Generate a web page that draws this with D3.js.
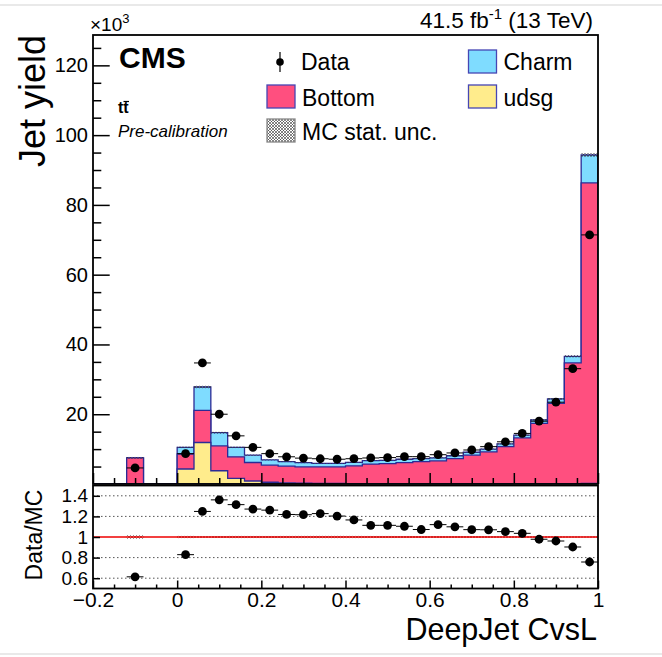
<!DOCTYPE html>
<html>
<head>
<meta charset="utf-8">
<script src="https://cdn.jsdelivr.net/npm/d3@7"></script>
<style>
  body { margin: 0; background: #fff; }
  svg { display: block; }
  text { font-family: "Liberation Sans", Arial, Helvetica, sans-serif; }
</style>
</head>
<body>
<svg id="chart" width="662" height="657"></svg>
<script>
// ---------------- data (in units of 10^3 jets) ----------------
const binCenters = [-0.18,-0.14,-0.10,-0.06,-0.02,0.02,0.06,0.10,0.14,0.18,0.22,0.26,0.30,0.34,0.38,
                    0.42,0.46,0.50,0.54,0.58,0.62,0.66,0.70,0.74,0.78,0.82,0.86,0.90,0.94,0.98];
const binHalfWidth = 0.02;
const udsg   = [0,0,0,0,0,4.3,11.9,3.8,1.6,0.86,0.5,0.35,0.25,0.2,0.15,
                0.12,0.1,0.1,0.1,0.1,0.1,0.1,0.1,0.1,0.1,0.1,0.1,0.1,0.1,0.2];
const bottom = [0,0,7.5,0,0,4.3,9.2,7.1,6.2,5.3,4.9,4.75,4.65,4.7,4.75,
                5.1,5.6,5.75,6.05,6.3,6.5,7.15,8.15,9.1,10.6,13.1,17.3,23.0,34.6,86.1];
const charm  = [0,0,0,0,0,1.9,6.7,3.8,2.7,2.1,1.5,1.3,1.2,1.0,1.0,
                1.0,1.0,0.95,0.95,0.9,0.9,0.85,0.85,0.8,0.8,0.8,1.0,1.3,1.9,8.0];
const dataY  = [0,0,4.6,0,0,8.7,34.7,20.0,13.8,10.5,8.7,7.8,7.42,7.24,7.1,
                7.25,7.46,7.57,7.84,7.83,8.4,8.9,9.75,10.7,12.1,14.5,18.0,23.45,33.05,71.4];
const mcStatUnc = [0,0,0.25,0,0,0.2,0.35,0.25,0.2,0.15,0.12,0.12,0.12,0.12,0.12,
                   0.12,0.12,0.12,0.12,0.12,0.12,0.12,0.13,0.14,0.15,0.17,0.2,0.25,0.3,0.5];

const yTicksMajor = [20,40,60,80,100,120];
const yTicksMinor = [5,10,15,25,30,35,45,50,55,65,70,75,85,90,95,105,110,115,125];
const xTicksMajor = [-0.2,0,0.2,0.4,0.6,0.8,1.0];
const xTicksMinor = [-0.15,-0.1,-0.05,0.05,0.1,0.15,0.25,0.3,0.35,0.45,0.5,0.55,0.65,0.7,0.75,0.85,0.9,0.95];
const xTickLabels = ["\u22120.2","0","0.2","0.4","0.6","0.8","1"];
const rTicks = [0.6,0.8,1.0,1.2,1.4];
const rTickLabels = ["0.6","0.8","1","1.2","1.4"];

const colBottom = "#ff4f7f", colCharm = "#7fdcff", colUdsg = "#ffec8c", colLine = "#2b2b96";
const FONT = '"Liberation Sans", Arial, Helvetica, sans-serif';

// ---------------- scales ----------------
const svg = d3.select("#chart");
svg.append("rect").attr("width",662).attr("height",657).attr("fill","#fff");
// page frame lines of the screenshot
svg.append("line").attr("x1",0).attr("x2",662).attr("y1",5).attr("y2",5).attr("stroke","#e2e2e2").attr("stroke-width",1.5);
svg.append("line").attr("x1",0).attr("x2",662).attr("y1",654).attr("y2",654).attr("stroke","#e2e2e2").attr("stroke-width",1.5);

const x = d3.scaleLinear().domain([-0.2, 1.0]).range([93, 598]);
const y = d3.scaleLinear().domain([0, 128.7]).range([484, 35]);
const yr = d3.scaleLinear().domain([0.5, 1.5]).range([588.5, 485.5]);

// patterns
const defs = svg.append("defs");
const pat = defs.append("pattern").attr("id","hatch").attr("patternUnits","userSpaceOnUse")
  .attr("width",3).attr("height",3);
pat.append("path").attr("d","M0,0 L3,3 M3,0 L0,3").attr("stroke","#333").attr("stroke-width",0.6);
defs.append("clipPath").attr("id","clipTop").append("rect")
  .attr("x",93).attr("y",35).attr("width",505).attr("height",449);
defs.append("clipPath").attr("id","clipRatio").append("rect")
  .attr("x",93).attr("y",485.5).attr("width",505).attr("height",103);

// ---------------- stacked histograms ----------------
const n = binCenters.length;
const lev1 = udsg.slice();
const lev2 = udsg.map((v,i)=>v+bottom[i]);
const lev3 = lev2.map((v,i)=>v+charm[i]);

function stepPath(vals){
  let p = `M${x(-0.2)},${y(0)}`;
  for(let i=0;i<n;i++){
    const lo = x(binCenters[i]-binHalfWidth), hi = x(binCenters[i]+binHalfWidth);
    p += `L${lo},${y(vals[i])}L${hi},${y(vals[i])}`;
  }
  p += `L${x(1.0)},${y(0)}Z`;
  return p;
}
const gTop = svg.append("g").attr("clip-path","url(#clipTop)");
[[lev3,colCharm],[lev2,colBottom],[lev1,colUdsg]].forEach(([vals,col])=>{
  gTop.append("path").attr("d",stepPath(vals)).attr("fill",col)
    .attr("stroke",colLine).attr("stroke-width",1.3).attr("stroke-linejoin","miter");
});

// MC stat unc hatch on top of stack
gTop.selectAll("rect.unc").data(d3.range(n).filter(i=>lev3[i]>0)).enter().append("rect")
  .attr("x",i=>x(binCenters[i]-binHalfWidth)).attr("width",i=>x(binCenters[i]+binHalfWidth)-x(binCenters[i]-binHalfWidth))
  .attr("y",i=>y(lev3[i]+mcStatUnc[i])).attr("height",i=>y(lev3[i]-mcStatUnc[i])-y(lev3[i]+mcStatUnc[i]))
  .attr("fill","url(#hatch)");

// data points
const dIdx = d3.range(n).filter(i=>dataY[i]>0);
gTop.selectAll("line.dx").data(dIdx).enter().append("line")
  .attr("x1",i=>x(binCenters[i]-binHalfWidth)).attr("x2",i=>x(binCenters[i]+binHalfWidth))
  .attr("y1",i=>y(dataY[i])).attr("y2",i=>y(dataY[i])).attr("stroke","#000").attr("stroke-width",1);
gTop.selectAll("circle.d").data(dIdx).enter().append("circle")
  .attr("cx",i=>x(binCenters[i])).attr("cy",i=>y(dataY[i])).attr("r",4.4).attr("fill","#000");

// ---------------- top axes ----------------
const fmtInt = d3.format("d");
const gy = svg.append("g").attr("transform",`translate(${x(-0.2)},0)`)
  .call(d3.axisLeft(y).tickValues(yTicksMajor).tickSize(-16.7).tickPadding(5).tickFormat(fmtInt));
gy.select(".domain").remove();
gy.selectAll("text").attr("font-size",20).attr("font-family",FONT).attr("fill","#000");
gy.selectAll("line").attr("stroke","#000").attr("stroke-width",1.5);
const gym = svg.append("g").attr("transform",`translate(${x(-0.2)},0)`)
  .call(d3.axisLeft(y).tickValues(yTicksMinor).tickSize(-8.3).tickFormat(""));
gym.select(".domain").remove();
gym.selectAll("line").attr("stroke","#000").attr("stroke-width",1.5);

const gxt = svg.append("g").attr("transform",`translate(0,${y(0)})`)
  .call(d3.axisBottom(x).tickValues(xTicksMajor).tickSize(-11).tickFormat(""));
gxt.select(".domain").remove();
gxt.selectAll("line").attr("stroke","#000").attr("stroke-width",1.5);
const gxtm = svg.append("g").attr("transform",`translate(0,${y(0)})`)
  .call(d3.axisBottom(x).tickValues(xTicksMinor).tickSize(-6).tickFormat(""));
gxtm.select(".domain").remove();
gxtm.selectAll("line").attr("stroke","#000").attr("stroke-width",1.5);

svg.append("rect").attr("x",93).attr("y",35).attr("width",505).attr("height",449)
  .attr("fill","none").attr("stroke","#000").attr("stroke-width",1.8);

// ---------------- ratio panel ----------------
const gR = svg.append("g").attr("clip-path","url(#clipRatio)");
gR.selectAll("line.grid").data(rTicks.filter(v=>v!==1.0)).enter().append("line")
  .attr("x1",93).attr("x2",598).attr("y1",d=>yr(d)).attr("y2",d=>yr(d))
  .attr("stroke","#555").attr("stroke-width",1).attr("stroke-dasharray","1.5,2.5");
const rIdx = d3.range(n).filter(i=>lev3[i]>0);
const rUnc = i => mcStatUnc[i]/lev3[i]*0.35+0.004;
gR.selectAll("rect.runc").data(rIdx).enter().append("rect")
  .attr("x",i=>x(binCenters[i]-binHalfWidth)).attr("width",i=>x(binCenters[i]+binHalfWidth)-x(binCenters[i]-binHalfWidth))
  .attr("y",i=>yr(1+rUnc(i))).attr("height",i=>yr(1-rUnc(i))-yr(1+rUnc(i)))
  .attr("fill","url(#hatch)");
gR.append("line").attr("x1",93).attr("x2",598).attr("y1",yr(1)).attr("y2",yr(1))
  .attr("stroke","#ee0000").attr("stroke-width",1.4);
const ratio = i => dataY[i]/lev3[i];
const rpIdx = rIdx.filter(i=>dataY[i]>0);
gR.selectAll("line.rx").data(rpIdx).enter().append("line")
  .attr("x1",i=>x(binCenters[i]-binHalfWidth)).attr("x2",i=>x(binCenters[i]+binHalfWidth))
  .attr("y1",i=>yr(ratio(i))).attr("y2",i=>yr(ratio(i))).attr("stroke","#000").attr("stroke-width",1);
gR.selectAll("circle.r").data(rpIdx).enter().append("circle")
  .attr("cx",i=>x(binCenters[i])).attr("cy",i=>yr(ratio(i))).attr("r",4.4).attr("fill","#000");

const gry = svg.append("g").attr("transform",`translate(${x(-0.2)},0)`)
  .call(d3.axisLeft(yr).tickValues(rTicks).tickSize(-7).tickPadding(5).tickFormat((d,i)=>rTickLabels[i]));
gry.select(".domain").remove();
gry.selectAll("text").attr("font-size",19).attr("font-family",FONT).attr("fill","#000");
gry.selectAll("line").attr("stroke","#000").attr("stroke-width",1.5);

const grx = svg.append("g").attr("transform",`translate(0,${yr(0.5)})`)
  .call(d3.axisBottom(x).tickValues(xTicksMajor).tickSize(-8).tickPadding(4).tickFormat((d,i)=>xTickLabels[i]));
grx.select(".domain").remove();
grx.selectAll("text").attr("font-size",21).attr("font-family",FONT).attr("fill","#000");
grx.selectAll("line").attr("stroke","#000").attr("stroke-width",1.5);
const grxm = svg.append("g").attr("transform",`translate(0,${yr(0.5)})`)
  .call(d3.axisBottom(x).tickValues(xTicksMinor).tickSize(-4).tickFormat(""));
grxm.select(".domain").remove();
grxm.selectAll("line").attr("stroke","#000").attr("stroke-width",1.5);

svg.append("rect").attr("x",93).attr("y",485.5).attr("width",505).attr("height",103)
  .attr("fill","none").attr("stroke","#000").attr("stroke-width",1.8);

// ---------------- texts ----------------
svg.append("text").attr("x",119).attr("y",68).attr("font-size",30).attr("font-weight","bold").text("CMS");
svg.append("text").attr("x",118).attr("y",113).attr("font-size",16).attr("font-weight","bold").text("tt");
svg.append("line").attr("x1",123.5).attr("x2",129).attr("y1",101.5).attr("y2",101.5).attr("stroke","#000").attr("stroke-width",1.2);
svg.append("text").attr("x",118).attr("y",137).attr("font-size",17).attr("font-style","italic").text("Pre-calibration");

const lum = svg.append("text").attr("x",593).attr("y",28).attr("font-size",22.5).attr("text-anchor","end");
lum.append("tspan").text("41.5 fb");
lum.append("tspan").attr("font-size",15).attr("dy",-9).text("-1");
lum.append("tspan").attr("dy",9).text(" (13 TeV)");

const tx = svg.append("text").attr("x",90).attr("y",31).attr("font-size",19);
tx.append("tspan").text("\u00d710");
tx.append("tspan").attr("font-size",13).attr("dy",-8).text("3");

svg.append("text").attr("transform","translate(45,35) rotate(-90)").attr("text-anchor","end")
  .attr("font-size",36).text("Jet yield");
svg.append("text").attr("transform","translate(42,535) rotate(-90)").attr("text-anchor","middle")
  .attr("font-size",23).text("Data/MC");
svg.append("text").attr("x",597).attr("y",640).attr("text-anchor","end").attr("font-size",30.5).text("DeepJet CvsL");

// ---------------- legend ----------------
const legFs = 23;
svg.append("line").attr("x1",280).attr("x2",280).attr("y1",52).attr("y2",72).attr("stroke","#000").attr("stroke-width",1.2);
svg.append("circle").attr("cx",280).attr("cy",62).attr("r",3.8).attr("fill","#000");
svg.append("text").attr("x",301).attr("y",70).attr("font-size",legFs).text("Data");
const legBoxes = [
  {x:267, y:85, fill:colBottom, label:"Bottom", ty:106},
  {x:267, y:119, fill:"url(#hatch)", label:"MC stat. unc.", ty:140, stroke:"#888"},
  {x:468.5, y:50, fill:colCharm, label:"Charm", ty:70},
  {x:468.5, y:85, fill:colUdsg, label:"udsg", ty:106}
];
legBoxes.forEach(b=>{
  svg.append("rect").attr("x",b.x).attr("y",b.y).attr("width",28).attr("height",23)
    .attr("fill",b.fill).attr("stroke",b.stroke||"#4646b4").attr("stroke-width",1.3);
  svg.append("text").attr("x",b.x+35).attr("y",b.ty).attr("font-size",legFs).text(b.label);
});
</script>
</body>
</html>
